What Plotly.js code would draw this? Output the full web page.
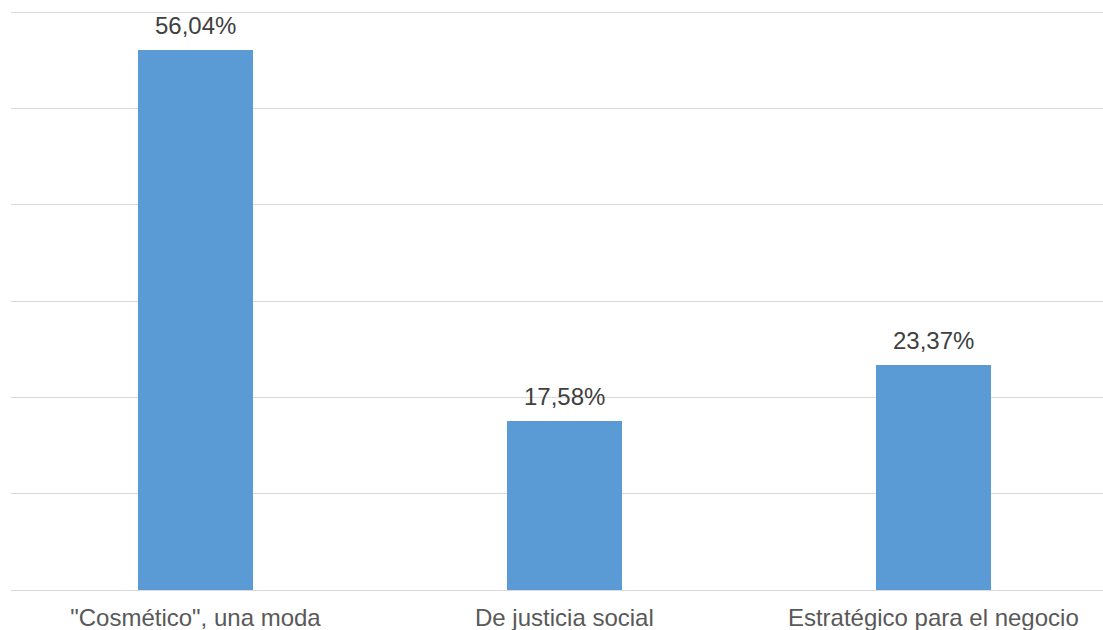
<!DOCTYPE html>
<html>
<head>
<meta charset="utf-8">
<script src="https://cdn.plot.ly/plotly-3.0.1.min.js"></script>
<style>html,body{margin:0;padding:0;background:#fff;}#chart{width:1103px;height:630px;}</style>
</head>
<body>
<div id="chart"></div>
<script>
const categories = ['"Cosmético", una moda', 'De justicia social', 'Estratégico para el negocio'];
const values = [56.04, 17.58, 23.37];
const labels = ['56,04%', '17,58%', '23,37%'];
const gridValues = [10, 20, 30, 40, 50, 60];

const trace = {
  type: 'bar',
  x: categories,
  y: values,
  width: 0.313,
  marker: {color: '#5b9bd5'},
  hoverinfo: 'skip'
};

const annotations = categories.map((c, i) => ({
  x: c, y: values[i], xref: 'x', yref: 'y',
  text: labels[i], showarrow: false,
  yanchor: 'bottom', yshift: 9,
  font: {family: 'Liberation Sans, Arial, sans-serif', size: 24, color: '#404040'}
}));

const layout = {
  width: 1103, height: 630,
  margin: {l: 11, r: 0, t: 2, b: 40, pad: 0},
  paper_bgcolor: '#ffffff', plot_bgcolor: '#ffffff',
  showlegend: false,
  bargap: 0,
  xaxis: {
    type: 'category',
    range: [-0.5, 2.46],
    showgrid: false,
    showline: true, linecolor: '#d9d9d9', linewidth: 1,
    ticks: '',
    tickfont: {family: 'Liberation Sans, Arial, sans-serif', size: 24, color: '#595959'},
    ticklabelstandoff: 6,
    fixedrange: true
  },
  yaxis: {
    range: [0, 61.04],
    tickvals: gridValues,
    showgrid: true, gridcolor: '#d9d9d9', gridwidth: 1,
    zeroline: false,
    showticklabels: false,
    ticks: '',
    fixedrange: true
  },
  annotations: annotations
};

Plotly.newPlot('chart', [trace], layout, {displayModeBar: false, staticPlot: true});
</script>
</body>
</html>
